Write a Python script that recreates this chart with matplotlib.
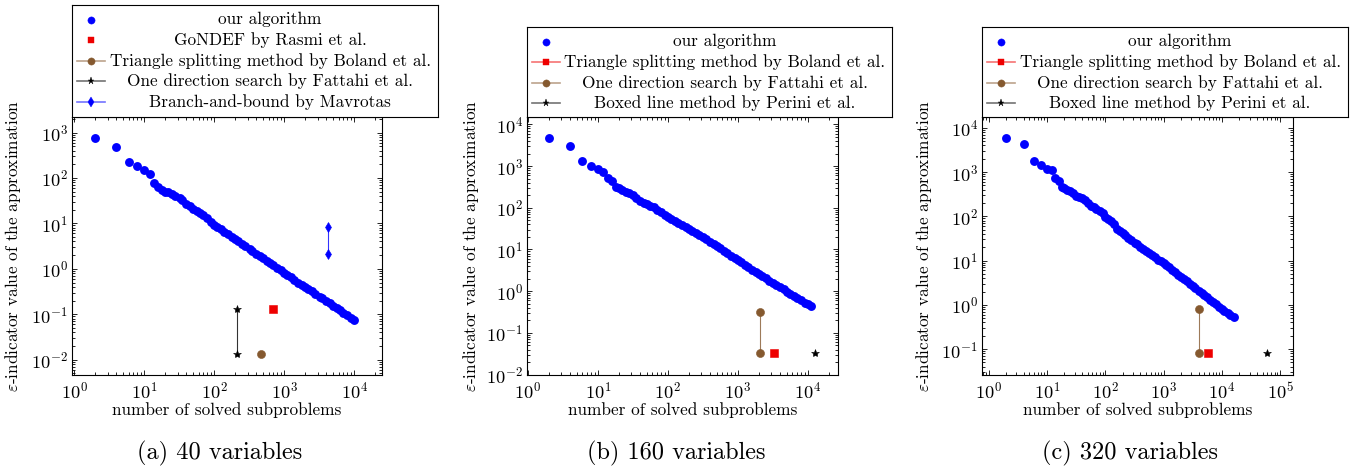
import matplotlib
matplotlib.use("Agg")
import matplotlib.pyplot as plt
import matplotlib.ticker as ticker
from matplotlib.colors import to_rgba

plt.rcParams["font.family"] = "cmr10"
plt.rcParams["mathtext.fontset"] = "cm"
plt.rcParams["axes.formatter.use_mathtext"] = True
plt.rcParams["font.size"] = 12.4

W, H = 1363, 467

# number of solved subproblems (shared grid of the blue series)
X_GRID = [2, 4, 6, 8, 10, 12, 14, 16, 18, 20, 22, 25, 28, 32, 35, 40, 45, 50, 56, 63,
          70, 80, 90, 100, 110, 125, 140, 160, 180, 200, 220, 250, 280, 320, 350, 400,
          450, 500, 560, 630, 700, 800, 900, 1000, 1100, 1250, 1400, 1600, 1800, 2000,
          2200, 2500, 2800, 3200, 3500, 4000, 4500, 5000, 5600, 6300, 7000, 8000, 9000,
          10000]
X_TAIL_B = [11000]
X_TAIL_C = [11000, 12500, 14000, 16000]

# epsilon-indicator of our algorithm
Y_OUR_A = [750, 490, 230, 186, 150, 121, 78, 63, 55, 50, 48, 45, 41, 36, 32, 27, 24, 21,
           19, 17, 15, 13, 11, 9.0, 8.3, 7.4, 6.5, 5.7, 5.0, 4.5, 4.0, 3.6, 3.2, 2.8, 2.5,
           2.15, 1.9, 1.7, 1.5, 1.35, 1.2, 1.05, 0.92, 0.82, 0.74, 0.65, 0.58, 0.5, 0.44,
           0.40, 0.36, 0.32, 0.28, 0.245, 0.225, 0.195, 0.175, 0.155, 0.138, 0.122, 0.108,
           0.095, 0.084, 0.075]
Y_OUR_B = [4700, 3100, 1300, 1000, 850, 740, 510, 450, 315, 305, 270, 245, 225, 200, 175,
           142, 130, 122, 112, 105, 90, 78, 68, 60, 55, 49, 43, 38, 34, 31, 28, 25, 22.5,
           20, 18, 15.5, 13.8, 12.2, 10.8, 9.4, 8.3, 7.1, 6.2, 5.5, 4.9, 4.3, 3.8, 3.3, 2.9,
           2.6, 2.35, 2.05, 1.8, 1.58, 1.42, 1.25, 1.1, 0.98, 0.87, 0.77, 0.69, 0.6, 0.53,
           0.49, 0.45]
Y_OUR_C = [5900, 4250, 1780, 1420, 1170, 1100, 750, 640, 455, 430, 400, 370, 330, 290, 270,
           255, 230, 200, 175, 160, 145, 135, 120, 95, 88, 78, 68, 52, 46, 41, 37, 33, 29,
           25.5, 23.5, 20.5, 18.5, 16.5, 14.8, 13.2, 11.8, 10.4, 9.6, 8.8, 8.0, 7.0, 6.2,
           5.4, 4.8, 4.3, 3.9, 3.4, 3.0, 2.6, 2.4, 2.1, 1.85, 1.65, 1.48, 1.3, 1.17, 1.02,
           0.9, 0.8, 0.73, 0.65, 0.58, 0.52]

# other methods, panel (a) 40 variables
A_GONDEF_X, A_GONDEF_Y = [700], [0.13]
A_BOLAND_X, A_BOLAND_Y = [470], [0.0135]
A_FATTAHI_X, A_FATTAHI_Y = [210, 210], [0.13, 0.0135]
A_MAVROTAS_X, A_MAVROTAS_Y = [4300, 4300], [8.5, 2.1]

# panel (b) 160 variables
B_BOLAND_X, B_BOLAND_Y = [3300], [0.033]
B_FATTAHI_X, B_FATTAHI_Y = [2100, 2100], [0.32, 0.033]
B_PERINI_X, B_PERINI_Y = [12700], [0.033]

# panel (c) 320 variables
C_BOLAND_X, C_BOLAND_Y = [5900], [0.08]
C_FATTAHI_X, C_FATTAHI_Y = [4100, 4100], [0.8, 0.08]
C_PERINI_X, C_PERINI_Y = [59000], [0.08]

STYLES = {
    "blue":    dict(color="#0000ff", marker="o", ms=6.4, lms=5.2),
    "red":     dict(color="#ee0000", marker="s", ms=5.6, lms=4.8),
    "brown":   dict(color="#85592f", marker="o", ms=5.8, lms=5.2),
    "star":    dict(color="#000000", marker="*", ms=6.0, lms=5.2),
    "diamond": dict(color="#0000ff", marker="d", ms=5.6, lms=5.0),
}

LEG_A = [("our algorithm", "blue", False),
         ("GoNDEF by Rasmi et al.", "red", False),
         ("Triangle splitting method by Boland et al.", "brown", True),
         ("One direction search by Fattahi et al.", "star", True),
         ("Branch-and-bound by Mavrotas", "diamond", True)]
LEG_BC = [("our algorithm", "blue", False),
          ("Triangle splitting method by Boland et al.", "red", True),
          ("One direction search by Fattahi et al.", "brown", True),
          ("Boxed line method by Perini et al.", "star", True)]


def px_rect(l, t, r, b):
    return [l / W, 1 - b / H, (r - l) / W, (b - t) / H]


def series(ax, x, y, key, line=True):
    st = STYLES[key]
    ax.plot(x, y, ls="-" if line else "none", lw=0.8,
            color=to_rgba(st["color"], 0.8), marker=st["marker"], ms=st["ms"],
            mfc=st["color"], mec=st["color"], mew=0.4, zorder=3)


def legend_box(fig, box, entries):
    l, t, r, b = box
    lax = fig.add_axes(px_rect(l, t, r, b))
    lax.set_xlim(0, r - l)
    lax.set_ylim(b - t, 0)
    lax.set_xticks([])
    lax.set_yticks([])
    for s in lax.spines.values():
        s.set_linewidth(0.8)
    for i, (label, key, line) in enumerate(entries):
        st = STYLES[key]
        yy = 14.5 + 20.6 * i
        if line:
            lax.plot([5, 33], [yy, yy], color=to_rgba(st["color"], 0.55), lw=1.2)
        lax.plot([19], [yy], ls="none", marker=st["marker"], ms=st["lms"],
                 color=st["color"], mew=0.3)
        lax.text((36 + r - l - 6) / 2, yy, label, ha="center", va="center")


def setup(ax, xlim, ylim, ylab_x):
    ax.set_xscale("log")
    ax.set_yscale("log")
    ax.set_xlim(*xlim)
    ax.set_ylim(*ylim)
    for axis in (ax.xaxis, ax.yaxis):
        axis.set_major_locator(ticker.LogLocator(base=10, numticks=30))
        axis.set_minor_locator(ticker.LogLocator(base=10, subs=range(2, 10), numticks=30))
        axis.set_minor_formatter(ticker.NullFormatter())
    ax.tick_params(which="both", direction="in", top=True, right=True, width=0.6,
                   labelsize=13.2)
    ax.tick_params(which="major", length=3.6)
    ax.tick_params(which="minor", length=2.2)
    ax.tick_params(axis="x", pad=4.0)
    ax.tick_params(axis="y", pad=3)
    for s in ax.spines.values():
        s.set_linewidth(0.8)
    ax.set_xlabel("number of solved subproblems")
    ax.set_ylabel(r"$\varepsilon$-indicator value of the approximation")
    ax.xaxis.set_label_coords(0.5, -0.105)
    ax.yaxis.set_label_coords(ylab_x, 0.5)


fig = plt.figure(figsize=(W / 100, H / 100), dpi=100)

# (a)
ax = fig.add_axes(px_rect(72, 117, 382, 375))
ax.plot(X_GRID, Y_OUR_A, ls="none", marker="o", ms=STYLES["blue"]["ms"],
        color=STYLES["blue"]["color"], mew=0, zorder=2)
series(ax, A_GONDEF_X, A_GONDEF_Y, "red", line=False)
series(ax, A_BOLAND_X, A_BOLAND_Y, "brown")
series(ax, A_FATTAHI_X, A_FATTAHI_Y, "star")
series(ax, A_MAVROTAS_X, A_MAVROTAS_Y, "diamond")
setup(ax, (0.93, 25000), (0.0046, 2200), -0.158)
legend_box(fig, (72, 5, 438, 117), LEG_A)

# (b)
ax = fig.add_axes(px_rect(527, 117, 838, 375))
ax.plot(X_GRID + X_TAIL_B, Y_OUR_B, ls="none", marker="o", ms=STYLES["blue"]["ms"],
        color=STYLES["blue"]["color"], mew=0, zorder=2)
series(ax, B_BOLAND_X, B_BOLAND_Y, "red")
series(ax, B_FATTAHI_X, B_FATTAHI_Y, "brown")
series(ax, B_PERINI_X, B_PERINI_Y, "star")
setup(ax, (0.97, 27000), (0.0098, 15000), -0.148)
legend_box(fig, (527, 27, 892, 117), LEG_BC)

# (c)
ax = fig.add_axes(px_rect(982, 117, 1293, 375))
ax.plot(X_GRID + X_TAIL_C, Y_OUR_C, ls="none", marker="o", ms=STYLES["blue"]["ms"],
        color=STYLES["blue"]["color"], mew=0, zorder=2)
series(ax, C_BOLAND_X, C_BOLAND_Y, "red")
series(ax, C_FATTAHI_X, C_FATTAHI_Y, "brown")
series(ax, C_PERINI_X, C_PERINI_Y, "star")
setup(ax, (0.77, 166000), (0.026, 17500), -0.155)
legend_box(fig, (982, 27, 1348, 117), LEG_BC)

for x, txt in [(220, "(a) 40 variables"), (676, "(b) 160 variables"),
               (1130, "(c) 320 variables")]:
    fig.text(x / W, 1 - 453 / H, txt, ha="center", va="center", fontsize=17.5)

fig.savefig("out.png", dpi=100)
